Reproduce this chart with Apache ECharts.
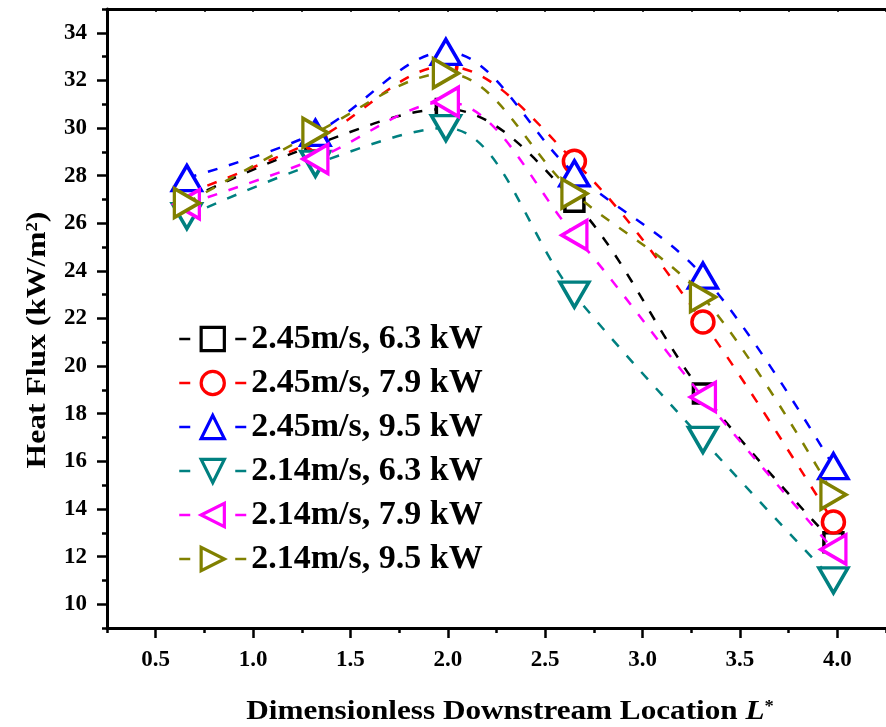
<!DOCTYPE html>
<html>
<head>
<meta charset="utf-8">
<script src="https://cdn.jsdelivr.net/npm/echarts@6/dist/echarts.min.js"></script>
<style>html,body{margin:0;padding:0;background:#fff}#c{width:886px;height:727px}</style>
</head>
<body>
<div id="c"></div>
<script>
// ---- data ----
var locations = [0.66, 1.32, 1.99, 2.65, 3.31, 3.98];
var seriesNames = ['2.45m/s, 6.3 kW', '2.45m/s, 7.9 kW', '2.45m/s, 9.5 kW', '2.14m/s, 6.3 kW', '2.14m/s, 7.9 kW', '2.14m/s, 9.5 kW'];
var flux_245_63 = [27.0, 29.3, 30.8, 26.9, 18.85, 12.6];
var flux_245_79 = [27.25, 29.5, 32.6, 28.6, 21.85, 13.45];
var flux_245_95 = [27.9, 29.8, 33.2, 28.1, 23.8, 15.8];
var flux_214_63 = [26.3, 28.5, 30.0, 23.0, 16.9, 11.0];
var flux_214_79 = [26.8, 28.7, 31.1, 25.5, 18.7, 12.3];
var flux_214_95 = [26.85, 29.8, 32.3, 27.25, 22.9, 14.6];
var xMajorTicks = [0.5, 1.0, 1.5, 2.0, 2.5, 3.0, 3.5, 4.0];
var yMajorTicks = [10, 12, 14, 16, 18, 20, 22, 24, 26, 28, 30, 32, 34];

// ---- styles ----
var allFlux = [flux_245_63, flux_245_79, flux_245_95, flux_214_63, flux_214_79, flux_214_95];
var colors = ['#000000', '#ff0000', '#0000ff', '#008080', '#ff00ff', '#808000'];
var symbols = ['rect', 'circle', 'triangle', 'triangle', 'triangle', 'triangle'];
var rotates = [0, 0, 0, 180, 90, -90];
var sizes = [19, 22, [29, 25], [29, 25], [29, 25], [29, 25]];
var FONT = 'Liberation Serif';

var series = allFlux.map(function (ys, k) {
  return {
    name: seriesNames[k],
    type: 'line',
    xAxisIndex: 0,
    yAxisIndex: 0,
    smooth: 0.35,
    data: locations.map(function (x, i) { return [x, ys[i]]; }),
    symbol: symbols[k],
    symbolRotate: rotates[k],
    symbolSize: sizes[k],
    showAllSymbol: true,
    lineStyle: { color: colors[k], width: 2.5, type: [10, 12] },
    itemStyle: { color: '#ffffff', borderColor: colors[k], borderWidth: 3.5 },
    emphasis: { disabled: true },
    z: 3 + k
  };
});

var chart = echarts.init(document.getElementById('c'), null, { renderer: 'canvas' });
chart.setOption({
  animation: false,
  backgroundColor: '#ffffff',
  grid: { left: 107, right: -7, top: 9, bottom: 99, containLabel: false },
  legend: {
    orient: 'vertical',
    left: 178,
    top: 322,
    padding: 0,
    itemWidth: 67,
    itemHeight: 29,
    itemGap: 10,
    textGap: 12,
    data: seriesNames,
    textStyle: { fontFamily: FONT, fontWeight: 'bold', fontSize: 34, color: '#000', lineHeight: 34 },
    itemStyle: { borderWidth: 3.2 },
    lineStyle: { type: [11, 45], width: 2.5 }
  },
  xAxis: [
    {
      type: 'value', position: 'bottom', min: 0.25, max: 4.25, interval: 0.25,
      axisLine: { show: true, onZero: false, lineStyle: { color: '#000', width: 3 } },
      axisTick: { show: true, length: 5, lineStyle: { color: '#000', width: 2.5 } },
      axisLabel: { show: false },
      splitLine: { show: false }
    },
    {
      type: 'value', position: 'bottom', min: 0.25, max: 4.25, interval: 0.25,
      axisLine: { show: false, onZero: false },
      axisTick: { show: true, length: 10, customValues: xMajorTicks, lineStyle: { color: '#000', width: 2.5 } },
      axisLabel: {
        show: true, customValues: xMajorTicks, margin: 21,
        fontFamily: FONT, fontWeight: 'bold', fontSize: 23, color: '#000',
        formatter: function (v) { return v.toFixed(1); }
      },
      splitLine: { show: false }
    },
    {
      type: 'value', position: 'top', min: 0.25, max: 4.25, interval: 0.25,
      axisLine: { show: true, onZero: false, lineStyle: { color: '#000', width: 3 } },
      axisTick: { show: true, inside: true, length: 3, lineStyle: { color: '#000', width: 1.5 } },
      axisLabel: { show: false },
      splitLine: { show: false }
    }
  ],
  yAxis: [
    {
      type: 'value', position: 'left', min: 9, max: 35, interval: 1,
      axisLine: { show: true, onZero: false, lineStyle: { color: '#000', width: 3 } },
      axisTick: { show: true, length: 5, lineStyle: { color: '#000', width: 2.5 } },
      axisLabel: {
        show: true, customValues: yMajorTicks, margin: 20,
        fontFamily: FONT, fontWeight: 'bold', fontSize: 23, color: '#000'
      },
      splitLine: { show: false }
    },
    {
      type: 'value', position: 'left', min: 9, max: 35, interval: 1,
      axisLine: { show: false, onZero: false },
      axisTick: { show: true, length: 10, customValues: yMajorTicks, lineStyle: { color: '#000', width: 2.5 } },
      axisLabel: { show: false },
      splitLine: { show: false }
    }
  ],
  graphic: [
    {
      type: 'text', x: 38, y: 340, rotation: Math.PI / 2, scaleX: 1.17,
      style: {
        text: 'Heat Flux (kW/m{sup|2})',
        fontFamily: FONT, fontWeight: 'bold', fontSize: 27, fill: '#000',
        align: 'center', verticalAlign: 'middle',
        rich: { sup: { fontFamily: FONT, fontWeight: 'bold', fontSize: 16, verticalAlign: 'top', fill: '#000', padding: [0, 0, 10, 0] } }
      }
    },
    {
      type: 'text', x: 510, y: 712, scaleX: 1.155,
      style: {
        text: 'Dimensionless Downstream Location {it|L}{sup|*}',
        fontFamily: FONT, fontWeight: 'bold', fontSize: 27, fill: '#000',
        align: 'center', verticalAlign: 'middle',
        rich: {
          it: { fontFamily: FONT, fontWeight: 'bold', fontStyle: 'italic', fontSize: 27, fill: '#000' },
          sup: { fontFamily: FONT, fontWeight: 'bold', fontSize: 16, verticalAlign: 'top', fill: '#000', padding: [0, 0, 10, 0] }
        }
      }
    }
  ],
  series: series
});
</script>
</body>
</html>
